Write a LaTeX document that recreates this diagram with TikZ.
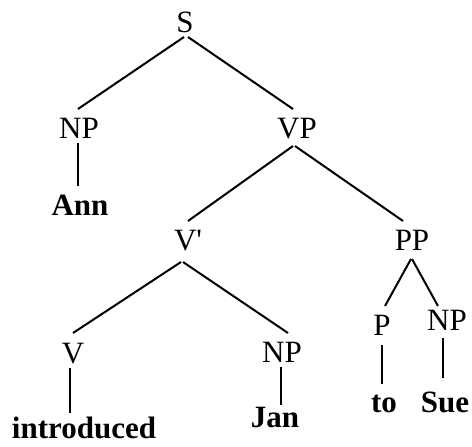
\documentclass[tikz,border=0pt]{standalone}
\usepackage{fontspec}
\setmainfont{Liberation Serif}
\usetikzlibrary{calc}
\begin{document}
\begin{tikzpicture}[x=1pt,y=-1pt,
  lab/.style={anchor=base,inner sep=0pt,font=\fontsize{31}{36}\selectfont},
  word/.style={lab,font=\fontsize{31}{36}\selectfont\bfseries},
  br/.style={line width=2pt}]
\useasboundingbox (0,0) rectangle (472,447);
\node[lab] (S) at (185,32) {S};
\node[lab] (NPa) at (79,138) {NP};
\node[lab] (VP) at (297,138) {VP};
\node[word] (Ann) at (80,215) {Ann};
\node[lab] (Vbar) at (188,250) {V\textquotesingle};
\node[lab] (PP) at (412,250) {PP};
\node[lab] (V) at (73,363) {V};
\node[lab] (NPb) at (282,362) {NP};
\node[lab] (P) at (382,335) {P};
\node[lab] (NPc) at (447,330) {NP};
\node[word] (intro) at (84,438) {introduced};
\node[word] (Jan) at (275,427) {Jan};
\node[word] (to) at (384,412) {to};
\node[word] (Sue) at (445,412) {Sue};
\draw[br] ($(S.base)+(-1,5)$) -- ($(NPa.base)+(-1,-29)$);
\draw[br] ($(S.base)+(3,5)$) -- ($(VP.base)+(-4,-29)$);
\draw[br] ($(NPa.base)+(-1,5)$) -- ($(Ann.base)+(-2,-29)$);
\draw[br] ($(VP.base)+(-4,8)$) -- ($(Vbar.base)+(0,-29)$);
\draw[br] ($(VP.base)+(-2,8)$) -- ($(PP.base)+(-9,-29)$);
\draw[br] ($(Vbar.base)+(-7,12)$) -- ($(V.base)+(0,-30)$);
\draw[br] ($(Vbar.base)+(-5,12)$) -- ($(NPb.base)+(6,-29)$);
\draw[br] ($(PP.base)+(-1,9)$) -- ($(P.base)+(3,-29)$);
\draw[br] ($(PP.base)+(0,9)$) -- ($(NPc.base)+(-9,-24)$);
\draw[br] ($(P.base)+(0,10)$) -- ($(to.base)+(-2,-28)$);
\draw[br] ($(NPc.base)+(-4,8)$) -- ($(Sue.base)+(-2,-34)$);
\draw[br] ($(V.base)+(-3,5)$) -- ($(intro.base)+(-14,-25)$);
\draw[br] ($(NPb.base)+(-1,5)$) -- ($(Jan.base)+(6,-22)$);
\end{tikzpicture}
\end{document}
